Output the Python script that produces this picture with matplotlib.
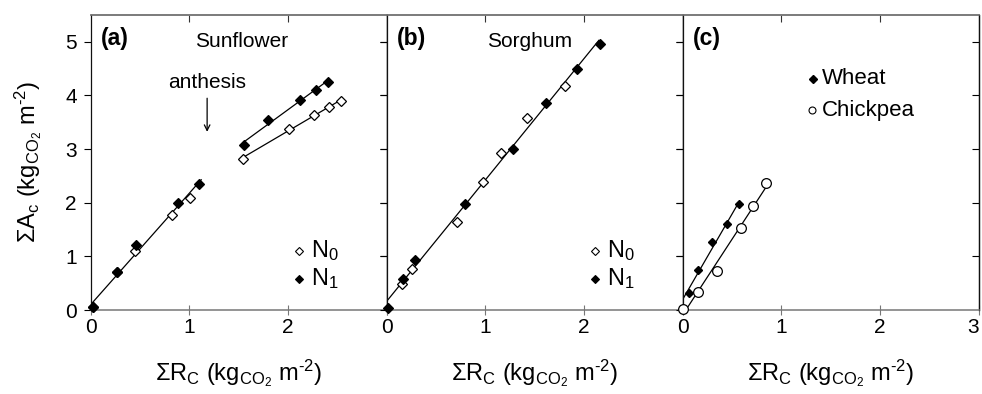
import matplotlib.pyplot as plt
import numpy as np

plt.rcParams['font.family'] = ['Liberation Sans', 'DejaVu Sans']
plt.rcParams['mathtext.fontset'] = 'custom'
plt.rcParams['mathtext.rm'] = 'Liberation Sans'
plt.rcParams['mathtext.it'] = 'Liberation Sans:italic'

# (a) sunflower, before and after anthesis
sun_pre_n0_x = [0.02, 0.27, 0.45, 0.82, 1.01]
sun_pre_n0_y = [0.05, 0.70, 1.10, 1.77, 2.09]
sun_pre_n1_x = [0.02, 0.27, 0.46, 0.88, 1.10]
sun_pre_n1_y = [0.05, 0.70, 1.21, 2.00, 2.35]
sun_post_n0_x = [1.54, 2.01, 2.26, 2.42, 2.54]
sun_post_n0_y = [2.82, 3.38, 3.63, 3.79, 3.90]
sun_post_n1_x = [1.55, 1.80, 2.12, 2.28, 2.41]
sun_post_n1_y = [3.07, 3.54, 3.92, 4.11, 4.25]

# (b) sorghum
sor_n0_x = [0.15, 0.26, 0.71, 0.98, 1.16, 1.42, 1.81]
sor_n0_y = [0.48, 0.76, 1.64, 2.38, 2.93, 3.58, 4.18]
sor_n1_x = [0.01, 0.17, 0.29, 0.79, 1.28, 1.61, 1.93, 2.16]
sor_n1_y = [0.03, 0.58, 0.94, 1.97, 3.00, 3.85, 4.50, 4.95]

# (c) wheat and chickpea
wheat_x = [0.06, 0.16, 0.30, 0.45, 0.57]
wheat_y = [0.31, 0.74, 1.26, 1.61, 1.97]
chick_x = [0.00, 0.15, 0.35, 0.59, 0.71, 0.84]
chick_y = [0.02, 0.33, 0.73, 1.52, 1.94, 2.36]

W, H = 982, 394
fig = plt.figure(figsize=(W / 100, H / 100), dpi=100)
lefts = [90.7, 386.7, 682.7]
axs = [fig.add_axes([l / W, 84 / H, 296 / W, 295 / H]) for l in lefts]

def fitline(ax, xs, ys, x0, x1):
    k, b = np.polyfit(xs, ys, 1)
    xx = np.array([x0, x1])
    ax.plot(xx, k * xx + b, color='k', lw=0.9, zorder=2)

def diamonds(ax, xs, ys, filled, ms=4.6):
    ax.plot(xs, ys, 'D', ms=ms, mec='k', mew=0.9,
            mfc='k' if filled else 'white', zorder=3, clip_on=False)

ax = axs[0]
fitline(ax, sun_pre_n0_x + sun_pre_n1_x, sun_pre_n0_y + sun_pre_n1_y, 0, 1.12)
fitline(ax, sun_post_n0_x, sun_post_n0_y, 1.54, 2.54)
fitline(ax, sun_post_n1_x, sun_post_n1_y, 1.55, 2.41)
diamonds(ax, sun_pre_n0_x, sun_pre_n0_y, False)
diamonds(ax, sun_pre_n1_x, sun_pre_n1_y, True)
diamonds(ax, sun_post_n0_x, sun_post_n0_y, False)
diamonds(ax, sun_post_n1_x, sun_post_n1_y, True)
ax.text(1.53, 5.0, 'Sunflower', ha='center', va='center', fontsize=15)
ax.text(1.18, 4.25, 'anthesis', ha='center', va='center', fontsize=15)
ax.annotate('', xy=(1.18, 3.27), xytext=(1.18, 4.0),
            arrowprops=dict(arrowstyle='->', lw=0.9, color='k'))

ax = axs[1]
fitline(ax, sor_n0_x + sor_n1_x, sor_n0_y + sor_n1_y, 0, 2.15)
diamonds(ax, sor_n0_x, sor_n0_y, False)
diamonds(ax, sor_n1_x, sor_n1_y, True)
ax.text(1.45, 5.0, 'Sorghum', ha='center', va='center', fontsize=15)

for ax in axs[:2]:
    ax.plot([2.11], [1.10], 'D', ms=3.6, mec='k', mew=0.8, mfc='white')
    ax.plot([2.11], [0.58], 'D', ms=3.6, mec='k', mew=0.8, mfc='k')
    ax.text(2.23, 1.10, r'N$_0$', ha='left', va='center', fontsize=17)
    ax.text(2.23, 0.58, r'N$_1$', ha='left', va='center', fontsize=17)

ax = axs[2]
fitline(ax, wheat_x, wheat_y, 0, 0.57)
fitline(ax, chick_x, chick_y, 0, 0.84)
ax.plot(wheat_x, wheat_y, 'D', ms=4.3, mec='k', mfc='k', zorder=3)
ax.plot(chick_x, chick_y, 'o', ms=7, mec='k', mew=0.9, mfc='white',
        zorder=3, clip_on=False)
ax.plot([1.32], [4.31], 'D', ms=3.6, mec='k', mfc='k')
ax.plot([1.31], [3.72], 'o', ms=5, mec='k', mew=0.8, mfc='white')
ax.text(1.41, 4.31, 'Wheat', ha='left', va='center', fontsize=16)
ax.text(1.41, 3.72, 'Chickpea', ha='left', va='center', fontsize=16)

xlab = '$\\Sigma$R$_\\mathrm{C}$ (kg$_{\\mathrm{CO}_2}$ m$^{\u20102}$)'
for i, ax in enumerate(axs):
    ax.set_xlim(0, 3)
    ax.set_ylim(0, 5.5)
    ax.set_yticks([0, 1, 2, 3, 4, 5])
    ax.set_xticks([0, 1, 2, 3])
    if i < 2:
        ax.set_xticklabels(['0', '1', '2', ''])
    ax.tick_params(axis='x', which='both', direction='inout', length=7,
                   labelsize=15, pad=2, top=False, color='#777777')
    ax.tick_params(axis='y', direction='out', length=5, labelsize=15,
                   pad=5, labelleft=(i == 0))
    sec = ax.secondary_xaxis('top')
    sec.set_xticks([1, 2])
    sec.tick_params(direction='in', length=5, labeltop=False, color='#333333')
    rsec = ax.secondary_yaxis('right')
    rsec.set_yticks([1, 2, 3, 4, 5])
    rsec.tick_params(direction='in', length=5, labelright=False)
    for s in [ax.spines['left'], ax.spines['right'], rsec.spines['right']]:
        s.set_linewidth(0.9)
        s.set_color('#111111')
    for s in [ax.spines['top'], ax.spines['bottom'], sec.spines['top']]:
        s.set_linewidth(1.1)
        s.set_color('#777777')
    ax.text(0.5, -0.215, xlab, transform=ax.transAxes, ha='center',
            va='center', fontsize=17)
    ax.text(0.035, 0.92, '(' + 'abc'[i] + ')', transform=ax.transAxes,
            ha='left', va='center', fontsize=16.5, fontweight='bold')

# last tick label of (c) sits on the figure edge; keep it inside
axs[2].get_xticklabels()[-1].set_horizontalalignment('right')

fig.text(28 / W, 1 - 162 / H,
         '$\\Sigma$A$_\\mathrm{c}$ (kg$_{\\mathrm{CO}_2}$ m$^{\u20102}$)',
         rotation=90, ha='center', va='center', fontsize=17)

fig.savefig('out.png', dpi=100)
